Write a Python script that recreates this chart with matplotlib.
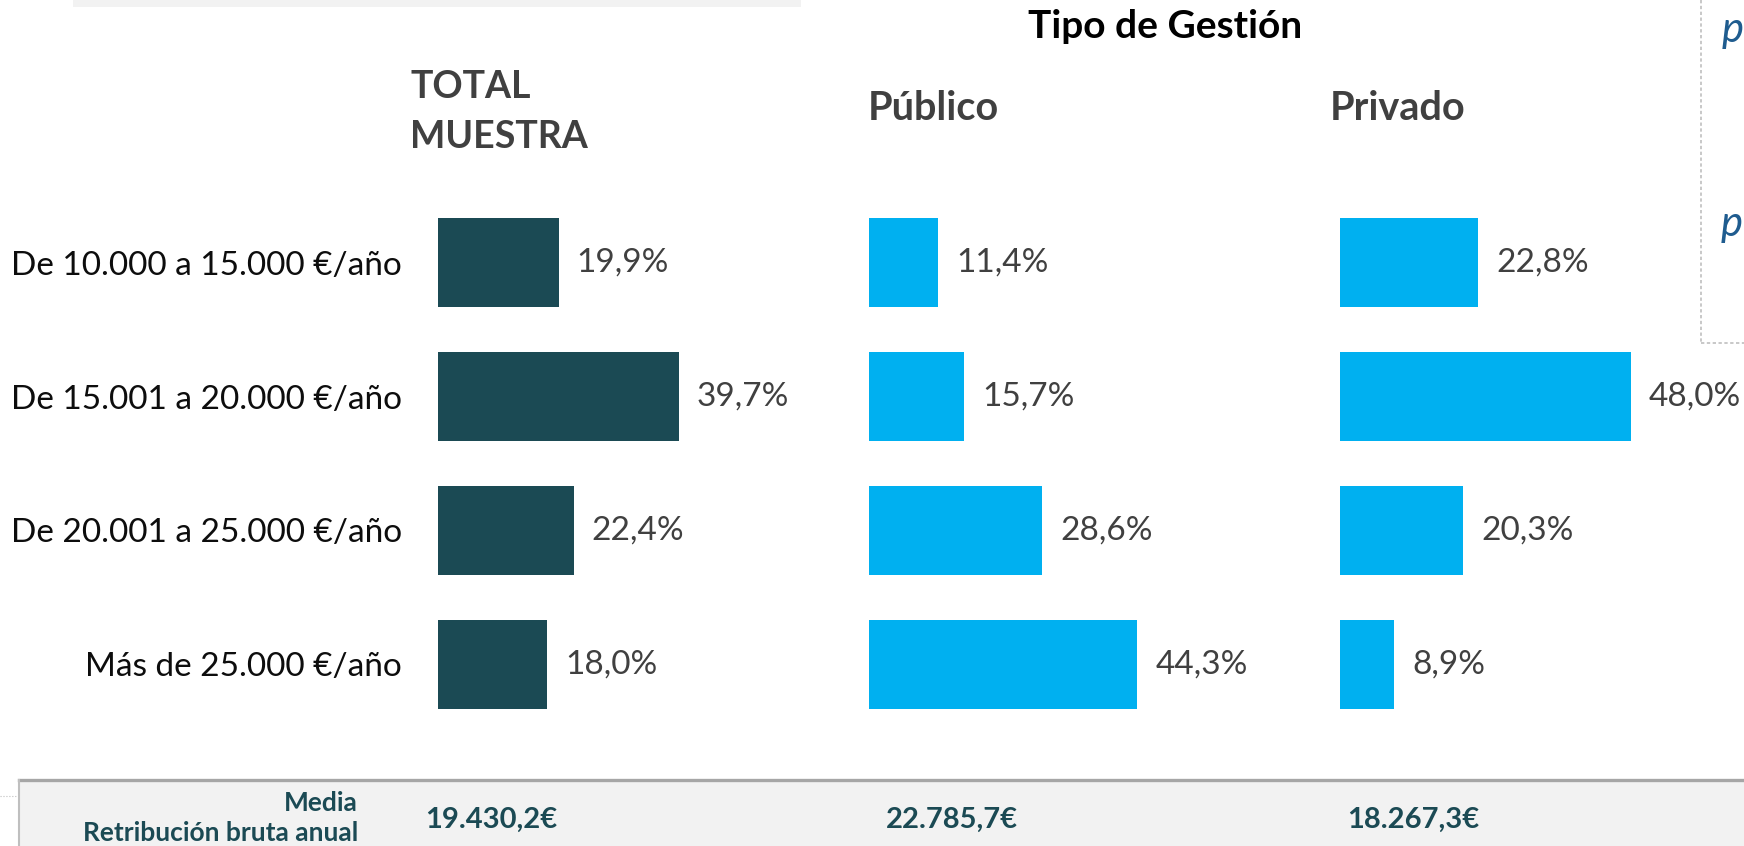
import matplotlib
matplotlib.use("Agg")
import matplotlib.pyplot as plt
from matplotlib.patches import Rectangle
from matplotlib.lines import Line2D

# ---------------- data ----------------
categories = ["De 10.000 a 15.000 €/año", "De 15.001 a 20.000 €/año",
              "De 20.001 a 25.000 €/año", "Más de 25.000 €/año"]
total_vals = [19.9, 39.7, 22.4, 18.0]
publico_vals = [11.4, 15.7, 28.6, 44.3]
privado_vals = [22.8, 48.0, 20.3, 8.9]
panel_titles = ["TOTAL\nMUESTRA", "Público", "Privado"]
group_title = "Tipo de Gestión"
media_label = "Media\nRetribución bruta anual"
media_vals = ["19.430,2€", "22.785,7€", "18.267,3€"]

# ---------------- style ----------------
plt.rcParams['font.family'] = ['Lato', 'DejaVu Sans']
W, H = 1744, 846
DARK = "#1b4a54"
CYAN = "#00b0f0"
GREY_TXT = "#404040"

fig = plt.figure(figsize=(W / 100, H / 100), dpi=100)

def fx(x):
    return x / W

def fy(y):
    return 1 - y / H

PX_PER_PCT = 6.06
row_top, row_bot = 196, 731
panel_left = [438, 869, 1340]
XMAX = 52
series = [total_vals, publico_vals, privado_vals]
colors = [DARK, CYAN, CYAN]

axes = []
for i, (left, vals, col) in enumerate(zip(panel_left, series, colors)):
    ax = fig.add_axes([fx(left), fy(row_bot), XMAX * PX_PER_PCT / W, (row_bot - row_top) / H])
    ax.set_xlim(0, XMAX)
    ax.set_ylim(3.5, -0.5)
    ypos = list(range(len(categories)))
    ax.barh(ypos, vals, height=0.667, color=col, edgecolor='none')
    for y, v in zip(ypos, vals):
        ax.annotate(f"{v:.1f}%".replace(".", ","), xy=(v, y), xytext=(13, 0),
                    textcoords="offset points", va="center", ha="left",
                    fontsize=24, color=GREY_TXT, annotation_clip=False)
    for s in ax.spines.values():
        s.set_visible(False)
    ax.set_xticks([])
    if i == 0:
        ax.set_yticks(ypos, labels=categories)
        ax.tick_params(axis='y', length=0, pad=26, labelsize=24, labelcolor="#0d0d0d")
    else:
        ax.set_yticks([])
    ax.patch.set_alpha(0)
    axes.append(ax)

# panel titles
fig.text(fx(410), fy(112), panel_titles[0], ha="left", va="center", fontsize=27,
         fontweight="bold", color=GREY_TXT, linespacing=1.55)
fig.text(fx(868), fy(108), panel_titles[1], ha="left", va="center", fontsize=28.5,
         fontweight="bold", color=GREY_TXT)
fig.text(fx(1330), fy(108), panel_titles[2], ha="left", va="center", fontsize=28.5,
         fontweight="bold", color=GREY_TXT)
fig.text(fx(1165), fy(27), group_title, ha="center", va="center", fontsize=28,
         fontweight="bold", color="black")

# top-left grey strip
fig.patches.append(Rectangle((fx(73), fy(7)), (801 - 73) / W, 7 / H,
                             transform=fig.transFigure, facecolor="#f2f2f2",
                             edgecolor="none"))

# dashed box on right edge
fig.lines.append(Line2D([fx(1701), fx(1701)], [fy(0), fy(343)], transform=fig.transFigure,
                        color="#bfbfbf", lw=1.2, ls=(0, (2, 1.5))))
fig.lines.append(Line2D([fx(1701), fx(1744)], [fy(343), fy(343)], transform=fig.transFigure,
                        color="#bfbfbf", lw=1.2, ls=(0, (2, 1.5))))
fig.text(fx(1722), fy(30), "p", ha="left", va="center", fontsize=30, style="italic",
         color="#1f5c8f")
fig.text(fx(1721), fy(224), "p", ha="left", va="center", fontsize=30, style="italic",
         color="#1f5c8f")

# bottom band
fig.patches.append(Rectangle((fx(19), 0), (W - 19) / W, (H - 780) / H,
                             transform=fig.transFigure, facecolor="#f2f2f2",
                             edgecolor="none"))
fig.lines.append(Line2D([fx(19), 1], [fy(780), fy(780)], transform=fig.transFigure,
                        color="#a6a6a6", lw=2.4))
fig.lines.append(Line2D([fx(19), fx(19)], [0, fy(780)], transform=fig.transFigure,
                        color="#bfbfbf", lw=1.5))
fig.lines.append(Line2D([0, fx(18)], [fy(796), fy(796)], transform=fig.transFigure,
                        color="#bfbfbf", lw=0.8, ls=":"))

fig.text(fx(358), fy(818), media_label, ha="right", va="center", fontsize=19,
         fontweight="bold", color=DARK, linespacing=1.3)
value_x = [425, 886, 1347]
for x, t in zip(value_x, media_vals):
    fig.text(fx(x), fy(820), t, ha="left", va="center", fontsize=21,
             fontweight="bold", color=DARK)

fig.savefig("out.png", dpi=100)
